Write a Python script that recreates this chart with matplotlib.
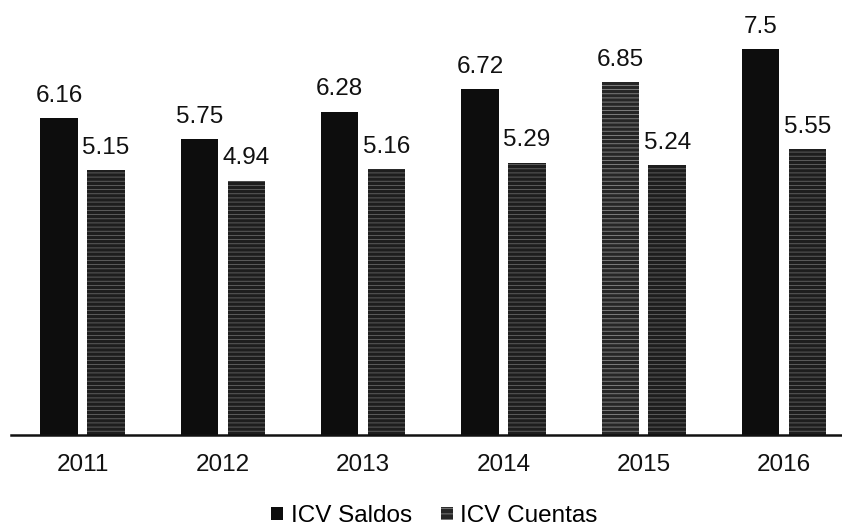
import matplotlib
matplotlib.use("Agg")
import matplotlib.pyplot as plt
import numpy as np

years = ["2011", "2012", "2013", "2014", "2015", "2016"]
icv_saldos = [6.16, 5.75, 6.28, 6.72, 6.85, 7.5]
icv_cuentas = [5.15, 4.94, 5.16, 5.29, 5.24, 5.55]

plt.rcParams["font.family"] = ["Liberation Sans", "DejaVu Sans"]
plt.rcParams["hatch.linewidth"] = 0.6

W, H = 842, 529
fig = plt.figure(figsize=(W / 100, H / 100), dpi=100)
ax = fig.add_axes([11 / W, (H - 435) / H, (W - 11) / W, (435 - 23) / H])

x = np.arange(len(years))
width = 0.267
off = 0.167
fs = 17.5

saldos_hatch = ["", "", "", "", "----", ""]
bars_s = ax.bar(x - off, icv_saldos, width, color="#0d0d0d", linewidth=0,
                edgecolor="#8a8a8a", label="ICV Saldos")
for b, h in zip(bars_s, saldos_hatch):
    b.set_hatch(h)
    if h:
        b.set_facecolor("#262626")
bars_c = ax.bar(x + off, icv_cuentas, width, color="#1e1e1e", linewidth=0,
                edgecolor="#666666", hatch="----", label="ICV Cuentas")

for bars, vals in ((bars_s, icv_saldos), (bars_c, icv_cuentas)):
    for b, v in zip(bars, vals):
        ax.annotate(f"{v:g}", (b.get_x() + b.get_width() / 2, v),
                    xytext=(0, 8), textcoords="offset points",
                    ha="center", va="bottom", fontsize=fs, color="#111111",
                    annotation_clip=False)

ax.set_ylim(0, 8)
ax.set_xlim(-0.51, -0.51 + 831 / 140.3)
ax.set_xticks(x)
ax.set_xticklabels(years, fontsize=fs, color="#111111")
ax.tick_params(axis="x", length=0, pad=14)
ax.set_yticks([])
for s in ("top", "right", "left"):
    ax.spines[s].set_visible(False)
ax.spines["bottom"].set_linewidth(1.8)
ax.spines["bottom"].set_color("#111111")

handles = [plt.Rectangle((0, 0), 1, 1, facecolor="#0d0d0d", linewidth=0),
           plt.Rectangle((0, 0), 1, 1, facecolor="#262626", edgecolor="#8a8a8a",
                         hatch="---", linewidth=0)]
fig.legend(handles, ["ICV Saldos", "ICV Cuentas"], loc="center",
           bbox_to_anchor=(434.5 / W, 1 - 516 / H), ncol=2, frameon=False,
           fontsize=fs, handlelength=0.5, handleheight=0.45, handletextpad=0.3,
           columnspacing=1.2, borderpad=0, borderaxespad=0)

fig.savefig("out.png", dpi=100, facecolor="white")
